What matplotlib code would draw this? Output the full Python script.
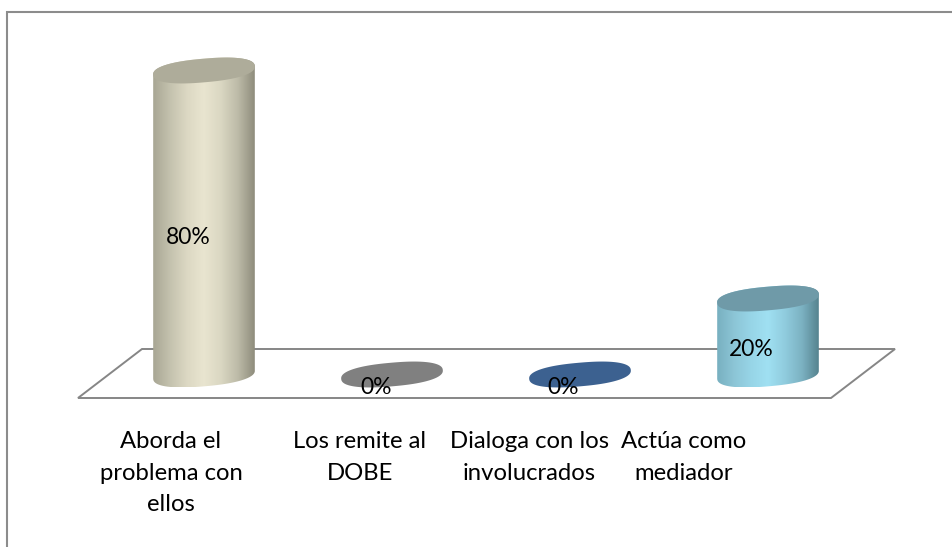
import numpy as np
import matplotlib
matplotlib.use('Agg')
import matplotlib.pyplot as plt
from matplotlib.colors import LinearSegmentedColormap
from matplotlib.patches import PathPatch, Polygon
from matplotlib.path import Path

W, H = 952, 547

# data
categories = ['Aborda el\nproblema con\nellos', 'Los remite al\nDOBE',
              'Dialoga con los\ninvolucrados', 'Actúa como\nmediador']
values = [80, 0, 0, 20]
value_labels = ['80%', '0%', '0%', '20%']

# colours: side gradient left to right, then the top
side_colors = [
    ['#a8a694', '#c4c2ae', '#dcd8c3', '#e9e5d0', '#dad7c2', '#bdbba8', '#8e8c7c'],
    ['#6e6e6e', '#808080', '#808080', '#808080', '#808080', '#808080', '#6e6e6e'],
    ['#34587f', '#3c6190', '#3c6190', '#3c6190', '#3c6190', '#3c6190', '#34587f'],
    ['#78b0c0', '#8cc5d6', '#97d5e7', '#a0e0f2', '#90ccde', '#7cb2c2', '#56838f'],
]
top_colors = ['#aeac9a', '#808080', '#3c6190', '#6f9aa8']

# pixel scale of the axes
x0_px, dx_px = 204, 188
y0_px, dy_px = 374.5, 3.8
semi_a, semi_b, tilt = 51, 11.8, np.radians(5)

plt.rcParams['font.family'] = ['Lato', 'DejaVu Sans']
fig = plt.figure(figsize=(W / 100, H / 100), dpi=100)
ax = fig.add_axes([0, 0, 1, 1])
ax.axis('off')


def data_x(px):
    return (px - x0_px) / dx_px


def data_y(py):
    return (y0_px - py) / dy_px


def ellipse(i, v, t):
    # tilted, slightly squared ellipse around category i at value v, t in radians
    ex = semi_a * np.sign(np.cos(t)) * np.abs(np.cos(t)) ** 0.85
    ey = semi_b * np.sign(np.sin(t)) * np.abs(np.sin(t)) ** 0.85
    px = ex * np.cos(tilt) - ey * np.sin(tilt)
    py = ex * np.sin(tilt) + ey * np.cos(tilt)
    return i + px / dx_px, v + py / dy_px


# outer frame, only left and top are in the crop
frame_x = [data_x(7), data_x(7), data_x(W)]
frame_y = [data_y(H), data_y(12), data_y(12)]
ax.plot(frame_x, frame_y, color='#8c8c8c', lw=1.5, zorder=1, solid_joinstyle='miter')

# floor
floor_px = [(78, 398), (831, 398), (895, 349), (142, 349)]
ax.add_patch(Polygon([(data_x(a), data_y(b)) for a, b in floor_px], closed=True,
                     fill=False, edgecolor='#868686', lw=1.4, zorder=2))

for i, v in enumerate(values):
    if v > 0:
        # body: bottom is the near side of the base, top is the far side of the cap
        t_low = np.linspace(np.pi, 2 * np.pi, 60)
        xb, yb = ellipse(i, 0, t_low)
        t_up = np.linspace(0, np.pi, 60)
        xt, yt = ellipse(i, v, t_up)
        verts = np.column_stack([np.r_[xb, xt], np.r_[yb, yt]])
        clip = PathPatch(Path(verts), transform=ax.transData, fc='none', ec='none')
        ax.add_patch(clip)
        cmap = LinearSegmentedColormap.from_list('side', side_colors[i])
        im = ax.imshow(np.linspace(0, 1, 256)[None, :], cmap=cmap, aspect='auto',
                       extent=[verts[:, 0].min(), verts[:, 0].max(),
                               verts[:, 1].min(), verts[:, 1].max()],
                       zorder=3, interpolation='bilinear')
        im.set_clip_path(clip)
    xe, ye = ellipse(i, v, np.linspace(0, 2 * np.pi, 160))
    ax.fill(xe, ye, color=top_colors[i], lw=0, zorder=4)

ax.set_xlim(-x0_px / dx_px, (W - x0_px) / dx_px)
ax.set_ylim((y0_px - H) / dy_px, y0_px / dy_px)

# value labels
label_dx = [-16, -16, -17, -17]
label_y = [237, 387, 387, 350]
for i, txt in enumerate(value_labels):
    ax.text(i + label_dx[i] / dx_px, data_y(label_y[i]), txt, fontsize=16.5,
            ha='center', va='center', color='black', zorder=6)

# category labels
cat_px = [171, 360, 529, 684]
for i, txt in enumerate(categories):
    ax.text(data_x(cat_px[i]), data_y(431), txt, fontsize=17.2, ha='center', va='top',
            linespacing=1.62, color='black', zorder=6)

fig.savefig('out.png', dpi=100)
